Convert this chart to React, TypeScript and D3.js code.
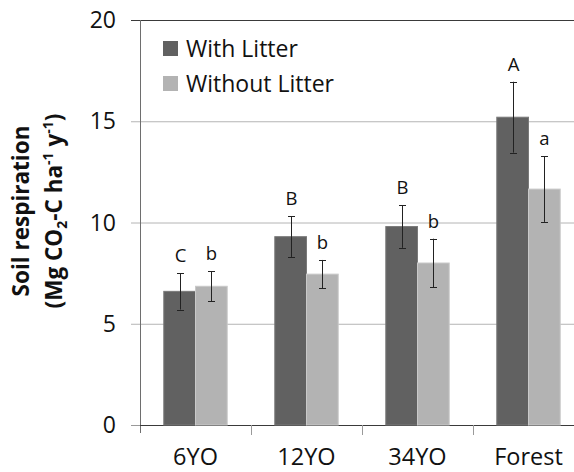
import { useEffect, useRef } from 'react'
import * as d3 from 'd3'

const categories = ['6YO', '12YO', '34YO', 'Forest']
const seriesNames = ['With Litter', 'Without Litter']
const withLitter = [6.6, 9.3, 9.8, 15.2]
const withoutLitter = [6.85, 7.45, 8.0, 11.65]
const withLitterErr = [0.9, 1.0, 1.05, 1.75]
const withoutLitterErr = [0.75, 0.7, 1.2, 1.62]
const withLitterLetters = ['C', 'B', 'B', 'A']
const withoutLitterLetters = ['b', 'b', 'b', 'a']
const yTicks = [0, 5, 10, 15, 20]

const colors = ['#616161', '#b3b3b3']
const strokes = ['#7a7a7a', '#c9c9c9']

export default function App() {
  const svgRef = useRef<SVGSVGElement>(null)

  useEffect(() => {
    if (!svgRef.current) return
    const svg = d3.select(svgRef.current)
    svg.selectAll('*').remove()

    const W = 574, H = 472
    const m = { top: 20, left: 140, bottom: 47, right: -10 }
    const font = "'Open Sans', sans-serif"

    const x = d3.scaleBand().domain(categories).range([m.left, W - m.right]).paddingInner(0).paddingOuter(0)
    const bw = x.bandwidth() / 3.5
    const xs = d3.scaleBand().domain(['0', '1']).range([0, bw * 2])
    const y = d3.scaleLinear().domain([0, 20]).range([H - m.bottom, m.top])

    // gridlines
    svg.append('g').selectAll('line').data(yTicks.filter(t => t > 0 && t < 20)).join('line')
      .attr('x1', m.left - 9).attr('x2', W).attr('y1', d => y(d) + 0.5).attr('y2', d => y(d) + 0.5)
      .attr('stroke', '#b4b4b4').attr('stroke-width', 1)
    svg.append('line').attr('x1', m.left - 9).attr('x2', W).attr('y1', y(20) + 0.5).attr('y2', y(20) + 0.5)
      .attr('stroke', '#3a3a3a')

    // y axis
    svg.append('line').attr('x1', m.left + 0.5).attr('x2', m.left + 0.5).attr('y1', y(20)).attr('y2', y(0) + 8)
      .attr('stroke', '#6e6e6e')
    svg.append('line').attr('x1', m.left - 9).attr('x2', m.left).attr('y1', y(0) + 0.5).attr('y2', y(0) + 0.5)
      .attr('stroke', '#9a9a9a')
    svg.append('g').selectAll('text').data(yTicks).join('text')
      .attr('x', m.left - 24).attr('y', d => y(d)).attr('dy', '0.35em')
      .attr('text-anchor', 'end').attr('font-family', font).attr('font-size', 23).attr('fill', '#111')
      .text(d => d)

    // x axis
    svg.append('line').attr('x1', m.left).attr('x2', W).attr('y1', y(0) + 0.5).attr('y2', y(0) + 0.5)
      .attr('stroke', '#3a3a3a')
    svg.append('g').selectAll('line').data(categories.slice(1)).join('line')
      .attr('x1', d => Math.round(x(d)!) + 0.5).attr('x2', d => Math.round(x(d)!) + 0.5)
      .attr('y1', y(0)).attr('y2', y(0) + 10).attr('stroke', '#9a9a9a')
    svg.append('g').selectAll('text').data(categories).join('text')
      .attr('x', d => x(d)! + x.bandwidth() / 2).attr('y', H - 7)
      .attr('text-anchor', 'middle').attr('font-family', font).attr('font-size', 23.5).attr('fill', '#111')
      .text(d => d)

    const series = [
      { vals: withLitter, err: withLitterErr, letters: withLitterLetters },
      { vals: withoutLitter, err: withoutLitterErr, letters: withoutLitterLetters }
    ]

    series.forEach((s, si) => {
      const g = svg.append('g')
      const bx = (i: number) => x(categories[i])! + (x.bandwidth() - bw * 2) / 2 + xs(String(si))!
      g.selectAll('rect').data(s.vals).join('rect')
        .attr('x', (_, i) => bx(i)).attr('width', bw)
        .attr('y', d => y(d)).attr('height', d => y(0) - y(d))
        .attr('fill', colors[si]).attr('stroke', strokes[si]).attr('stroke-width', 1)
      const cx = (i: number) => Math.round(bx(i) + bw / 2) + 0.5
      s.vals.forEach((v, i) => {
        const top = y(v + s.err[i]), bot = y(v - s.err[i])
        g.append('line').attr('x1', cx(i)).attr('x2', cx(i)).attr('y1', top).attr('y2', bot).attr('stroke', '#222')
        ;[top, bot].forEach(yy => g.append('line').attr('x1', cx(i) - 3.5).attr('x2', cx(i) + 3.5)
          .attr('y1', Math.round(yy) + 0.5).attr('y2', Math.round(yy) + 0.5).attr('stroke', '#222'))
        g.append('text').attr('x', cx(i)).attr('y', top - 11)
          .attr('text-anchor', 'middle').attr('font-family', font).attr('font-size', 18.5).attr('fill', '#111')
          .text(s.letters[i])
      })
    })

    // legend
    const lg = svg.append('g')
    seriesNames.forEach((n, i) => {
      lg.append('rect').attr('x', 163).attr('y', 41 + i * 35).attr('width', 15).attr('height', 15).attr('fill', colors[i])
      lg.append('text').attr('x', 186).attr('y', 48.5 + i * 35).attr('dy', '0.35em')
        .attr('font-family', font).attr('font-size', 23).attr('fill', '#111').text(n)
    })

    // y title
    const t = svg.append('text').attr('transform', `translate(37,${211}) rotate(-90)`)
      .attr('text-anchor', 'middle').attr('font-family', font).attr('font-weight', 'bold').attr('font-size', 22.5).attr('fill', '#111')
    t.append('tspan').attr('x', 0).attr('y', -8).text('Soil respiration')
    const t2 = t.append('tspan').attr('x', 0).attr('y', 25)
    t2.append('tspan').text('(Mg CO')
    t2.append('tspan').attr('font-size', 14).attr('dy', 5).text('2')
    t2.append('tspan').attr('dy', -5).text('-C ha')
    t2.append('tspan').attr('font-size', 14).attr('dy', -9).text('-1')
    t2.append('tspan').attr('dy', 9).text(' y')
    t2.append('tspan').attr('font-size', 14).attr('dy', -9).text('-1')
    t2.append('tspan').attr('dy', 9).text(')')
  }, [])

  return (
    <svg ref={svgRef} width={574} height={472}
      style={{ position: 'absolute', left: 0, top: 0, background: '#fff', display: 'block' }} />
  )
}
